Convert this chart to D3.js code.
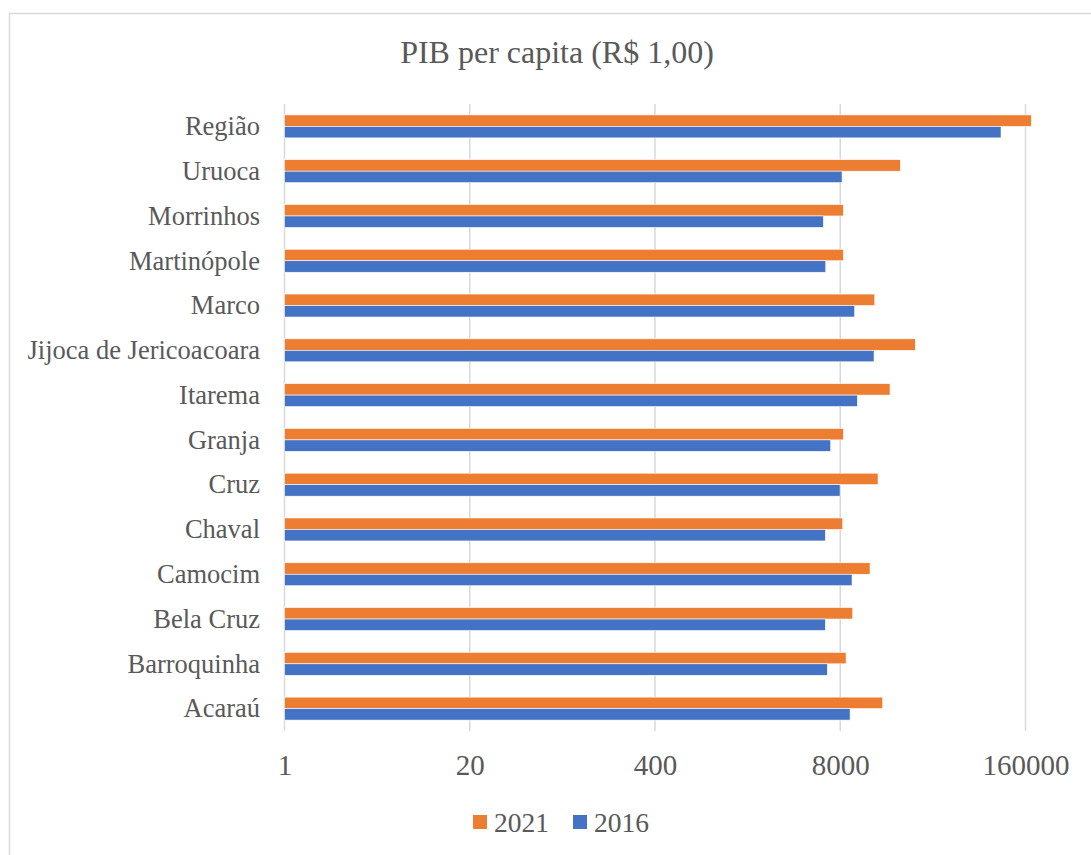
<!DOCTYPE html>
<html lang="en">
<head>
<meta charset="utf-8">
<title>PIB per capita (R$ 1,00)</title>
<script src="https://cdn.jsdelivr.net/npm/d3@7"></script>
<style>
  body { margin: 0; background: #fff; }
</style>
</head>
<body>
<script>
// categories, top to bottom as drawn
var categories = ["Região", "Uruoca", "Morrinhos", "Martinópole", "Marco",
  "Jijoca de Jericoacoara", "Itarema", "Granja", "Cruz", "Chaval",
  "Camocim", "Bela Cruz", "Barroquinha", "Acaraú"];

var values2021 = [175700, 21140, 8410, 8410, 13980, 26940, 17890, 8410, 14740, 8330, 12950, 9790, 8790, 15900];
var values2016 = [107700, 8240, 6090, 6330, 10110, 13820, 10550, 6860, 7980, 6290, 9680, 6290, 6490, 9380];

var seriesNames = ["2021", "2016"];
var tickValues = [1, 20, 400, 8000, 160000];

var width = 1091, height = 855;
var colors = { "2021": "#ED7D31", "2016": "#4472C4" };
var serif = "'Liberation Serif', 'Times New Roman', serif";
var textColor = "#595959";

var svg = d3.select("body").append("svg")
    .attr("width", width)
    .attr("height", height)
    .style("font-family", serif);

// chart border (only top and left visible in the frame)
svg.append("rect")
    .attr("x", 9.5).attr("y", 13.5)
    .attr("width", 1200).attr("height", 1000)
    .attr("fill", "none")
    .attr("stroke", "#d9d9d9")
    .attr("stroke-width", 1.5);

// title
svg.append("text")
    .attr("x", 557).attr("y", 63)
    .attr("text-anchor", "middle")
    .style("font-family", serif)
    .style("font-size", "32px")
    .attr("fill", textColor)
    .text("PIB per capita (R$ 1,00)");

var x = d3.scaleLog().base(20)
    .domain([1, 160000])
    .range([284.5, 1025.5]);

var y = d3.scaleBand()
    .domain(categories)
    .range([104, 731])
    .paddingInner(0.487)
    .paddingOuter(0.2435);

var ySub = d3.scaleBand()
    .domain(seriesNames)
    .range([0, y.bandwidth()]);

// gridlines
svg.append("g")
    .selectAll("line")
    .data(tickValues)
    .enter().append("line")
    .attr("x1", function(d) { return x(d); })
    .attr("x2", function(d) { return x(d); })
    .attr("y1", 104).attr("y2", 731)
    .attr("stroke", "#d9d9d9")
    .attr("stroke-width", 1.5);

// x axis labels
var xAxis = d3.axisBottom(x)
    .tickValues(tickValues)
    .tickFormat(d3.format("d"))
    .tickSize(0)
    .tickPadding(0);

var gx = svg.append("g")
    .attr("transform", "translate(0,731)")
    .call(xAxis);
gx.select(".domain").remove();
gx.selectAll("text")
    .attr("y", 44)
    .attr("dy", 0)
    .attr("fill", textColor)
    .style("font-size", "29px")
    .style("font-family", serif);

// category labels
var yAxis = d3.axisLeft(y).tickSize(0).tickPadding(0);
var gy = svg.append("g")
    .attr("transform", "translate(260,0)")
    .call(yAxis);
gy.select(".domain").remove();
gy.selectAll("text")
    .attr("x", 0)
    .attr("dy", "0.33em")
    .attr("fill", textColor)
    .style("font-size", "26.5px")
    .style("font-family", serif);

// bars
var rows = categories.map(function(c, i) {
    return { cat: c, vals: [
        { key: "2021", v: values2021[i] },
        { key: "2016", v: values2016[i] }
    ] };
});

var groups = svg.append("g")
    .selectAll("g")
    .data(rows)
    .enter().append("g")
    .attr("transform", function(d) { return "translate(0," + y(d.cat) + ")"; });

groups.selectAll("rect")
    .data(function(d) { return d.vals; })
    .enter().append("rect")
    .attr("x", x(1))
    .attr("y", function(d) { return ySub(d.key); })
    .attr("height", ySub.bandwidth())
    .attr("width", function(d) { return x(d.v) - x(1); })
    .attr("fill", function(d) { return colors[d.key]; })
    .attr("stroke", "#fff")
    .attr("stroke-width", 0.6);

// legend
var legend = svg.append("g").attr("transform", "translate(473,815)");
var legendItem = legend.selectAll("g")
    .data(seriesNames)
    .enter().append("g")
    .attr("transform", function(d, i) { return "translate(" + (i * 100) + ",0)"; });

legendItem.append("rect")
    .attr("width", 14).attr("height", 14)
    .attr("fill", function(d) { return colors[d]; });

legendItem.append("text")
    .attr("x", 21).attr("y", 17)
    .attr("fill", textColor)
    .style("font-family", serif)
    .style("font-size", "27.5px")
    .text(function(d) { return d; });
</script>
</body>
</html>
